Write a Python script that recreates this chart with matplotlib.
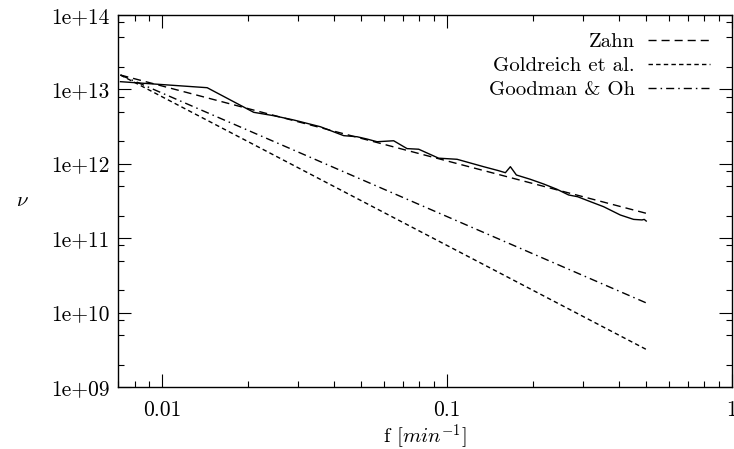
import matplotlib
matplotlib.use('Agg')
import matplotlib.pyplot as plt
from matplotlib.ticker import LogLocator, NullFormatter

plt.rcParams['font.family'] = 'cmr10'
plt.rcParams['mathtext.fontset'] = 'cm'
plt.rcParams['axes.unicode_minus'] = False

f_data = [0.00714, 0.01439, 0.02096, 0.02464, 0.02896, 0.03592, 0.04337, 0.04833,
          0.0524, 0.0568, 0.06495, 0.07237, 0.07951, 0.0934, 0.1084, 0.1344, 0.1517,
          0.1602, 0.1668, 0.1751, 0.196, 0.2183, 0.2432, 0.2671, 0.2872, 0.3183,
          0.3544, 0.4056, 0.4515, 0.4833, 0.492, 0.5]
nu_data = [1.27e13, 1.054e13, 4.92e12, 4.43e12, 3.88e12, 3.15e12, 2.39e12, 2.31e12,
           2.15e12, 1.98e12, 2.04e12, 1.60e12, 1.57e12, 1.19e12, 1.15e12, 9.14e11, 8.08e11,
           7.59e11, 9.14e11, 7.07e11, 6.19e11, 5.35e11, 4.54e11, 3.81e11, 3.61e11, 3.10e11,
           2.65e11, 2.05e11, 1.79e11, 1.76e11, 1.79e11, 1.70e11]

# model power laws, end points
f_model = [0.00714, 0.5]
nu_zahn = [1.56e13, 2.16e11]
nu_goldreich = [1.56e13, 3.2e9]
nu_goodman = [1.56e13, 1.35e10]

xticks = [0.01, 0.1, 1]
xticklabels = ['0.01', '0.1', '1']
yticks = [1e9, 1e10, 1e11, 1e12, 1e13, 1e14]
yticklabels = ['1e+09', '1e+10', '1e+11', '1e+12', '1e+13', '1e+14']

fig = plt.figure(figsize=(7.34, 4.49), dpi=100)
ax = fig.add_axes([118/734, 1-387/449, 614/734, 372/449])

ax.plot(f_data, nu_data, color='black', lw=1.0)
ax.plot(f_model, nu_zahn, color='black', lw=1.0, dashes=(5.8, 3.6), label='Zahn')
ax.plot(f_model, nu_goldreich, color='black', lw=1.0, dashes=(3.2, 2.3), label='Goldreich et al.')
ax.plot(f_model, nu_goodman, color='black', lw=1.0, dashes=(5.8, 2.9, 1.1, 2.9), label='Goodman & Oh')

ax.set_xscale('log')
ax.set_yscale('log')
ax.set_xlim(0.007, 1)
ax.set_ylim(1e9, 1e14)

ax.set_xticks(xticks)
ax.set_xticklabels(xticklabels)
ax.set_yticks(yticks)
ax.set_yticklabels(yticklabels)
ax.xaxis.set_minor_locator(LogLocator(base=10, subs=[2, 3, 4, 5, 6, 7, 8, 9]))
ax.yaxis.set_minor_locator(LogLocator(base=10, subs=[2, 5, 8]))
ax.xaxis.set_minor_formatter(NullFormatter())
ax.yaxis.set_minor_formatter(NullFormatter())

ax.tick_params(which='both', direction='in', top=True, right=True, width=0.8, labelsize=15.5)
ax.tick_params(which='major', length=9.4)
ax.tick_params(which='minor', length=4.5)
ax.tick_params(axis='x', pad=10)
ax.tick_params(axis='y', pad=6)
for s in ax.spines.values():
    s.set_linewidth(1.0)

ax.set_xlabel('f [$min^{-1}$]', fontsize=15)
ax.xaxis.set_label_coords(0.5, -0.093)
ax.set_ylabel(r'$\nu$', fontsize=15, rotation=0, va='center')
ax.yaxis.set_label_coords(-0.156, 0.5)

leg = ax.legend(loc='upper right', frameon=False, markerfirst=False, fontsize=15,
                handlelength=3.0, handletextpad=0.62, labelspacing=0.25,
                bbox_to_anchor=(0.978, 0.975), borderaxespad=0)

fig.savefig('out.png', dpi=100)
